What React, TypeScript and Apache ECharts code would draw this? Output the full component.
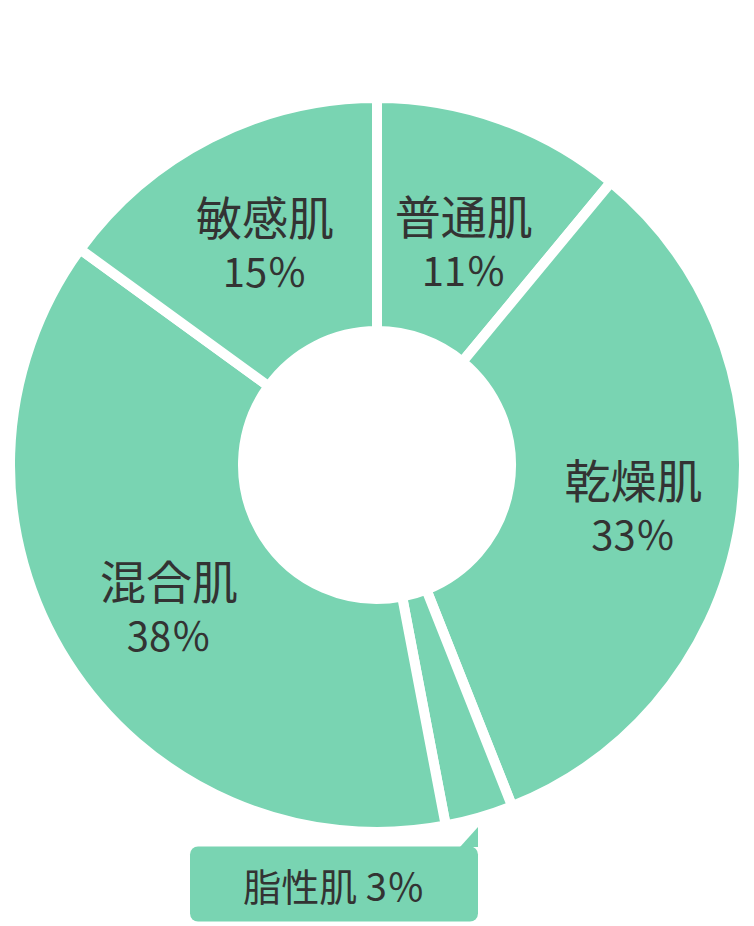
import React, { useEffect, useRef } from 'react';
import * as echarts from 'echarts';

// 肌タイプの割合
const skinTypes = ['普通肌', '乾燥肌', '脂性肌', '混合肌', '敏感肌'];
const shares = [11, 33, 3, 38, 15];

const GREEN = '#79D4B2';
const TEXT = '#333333';

// 内側ラベルの微調整 (px)
const nudges = [
  [1, 15],
  [6, 1],
  [0, 0],
  [6, 6],
  [3, 3],
];

const App: React.FC = () => {
  const chartRef = useRef<HTMLDivElement>(null);

  useEffect(() => {
    document.body.style.margin = '0';
    if (!chartRef.current) return;
    const chart = echarts.init(chartRef.current, undefined, { renderer: 'svg' });

    const data = skinTypes.map((name, i) => {
      const small = shares[i] < 5;
      return {
        name,
        value: shares[i],
        label: small
          ? {
              position: 'outside',
              formatter: '{b} {c}％',
              fontSize: 38,
              color: TEXT,
              backgroundColor: GREEN,
              borderRadius: 8,
              width: 288,
              height: 75,
              lineHeight: 75,
              align: 'center',
              verticalAlign: 'middle',
            }
          : undefined,
      };
    });

    const option = {
      animation: false,
      textStyle: { fontFamily: '"Noto Sans CJK JP", sans-serif' },
      graphic: [
        {
          type: 'polygon',
          shape: { points: [[460, 847], [478, 827], [478, 847]] },
          style: { fill: GREEN },
          silent: true,
        },
      ],
      series: [
        {
          type: 'pie',
          center: [377, 465],
          radius: [134, 367],
          startAngle: 90,
          clockwise: true,
          avoidLabelOverlap: false,
          silent: true,
          itemStyle: { color: GREEN, borderColor: '#ffffff', borderWidth: 10 },
          label: {
            show: true,
            position: 'inside',
            formatter: '{n|{b}}\n{p|{c}％}',
            rich: {
              n: { fontSize: 46, color: TEXT, lineHeight: 55 },
              p: { fontSize: 40, color: TEXT, lineHeight: 55 },
            },
          },
          labelLine: { show: false },
          labelLayout: (params: any) => {
            const i = params.dataIndex;
            if (shares[i] < 5) {
              return { x: 334, y: 884, align: 'center', verticalAlign: 'middle' };
            }
            return { dx: nudges[i][0], dy: nudges[i][1] };
          },
          data,
        },
      ],
    };

    chart.setOption(option);
    return () => chart.dispose();
  }, []);

  return <div ref={chartRef} style={{ width: 754, height: 926 }} />;
};

export default App;
